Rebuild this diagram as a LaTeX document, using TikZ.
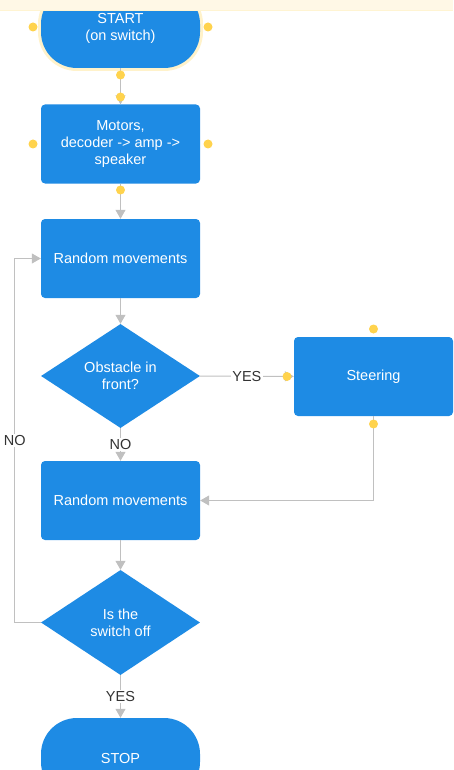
\documentclass[tikz,border=0pt]{standalone}
\usepackage{fontspec}
\setmainfont{Liberation Sans}
\usetikzlibrary{shapes.geometric,arrows.meta,calc}
\definecolor{boxblue}{RGB}{30,139,228}
\definecolor{linegray}{RGB}{192,192,192}
\definecolor{dotyellow}{RGB}{255,211,77}
\definecolor{labelgray}{RGB}{51,51,51}
\definecolor{bandcream}{RGB}{255,248,230}

\begin{document}
\begin{tikzpicture}[x=1pt,y=-1pt,
    every node/.style={font=\fontsize{14.5}{17}\selectfont},
    process/.style={rectangle, rounded corners=4pt, fill=boxblue, text=white, align=center,
        minimum width=159pt, minimum height=79pt, inner sep=0pt},
    terminal/.style={process, rounded corners=36pt, minimum height=80pt},
    decision/.style={diamond, aspect=1.53, fill=boxblue, text=white, align=center,
        minimum width=159pt, minimum height=104pt, inner sep=0pt},
    flow/.style={draw=linegray, line width=1pt, -{Triangle[width=10pt,length=9pt]}},
    answer/.style={fill=white, text=labelgray, inner sep=1.5pt},
    handle/.style={fill=dotyellow}]
    \useasboundingbox (0,0) rectangle (453,770);

    % Glow round the selected start shape
    \draw[dotyellow!30, line width=6pt, rounded corners=36pt] (41,-12) rectangle (200,68);

    % Shapes
    \node[terminal] (start) at (120.5,28) {START\\(on switch)};
    \node[process] (motors) at (120.5,144) {Motors,\\decoder -> amp ->\\speaker};
    \node[process] (rand1) at (120.5,258.5) {Random movements};
    \node[decision] (obst) at (120.5,376) {Obstacle in\\front?};
    \node[process] (steer) at (373.5,376.5) {Steering};
    \node[process] (rand2) at (120.5,500.5) {Random movements};
    \node[decision, minimum height=105pt] (swoff) at (120.5,622.5) {Is the\\switch off};
    \node[terminal] (stop) at (120.5,758) {STOP};

    % Connectors
    \draw[flow] (start) -- (motors);
    \draw[flow] (motors) -- (rand1);
    \draw[flow] (rand1) -- (obst);
    \draw[flow] (obst) -- node[answer] {YES} (steer);
    \draw[flow] (obst) -- node[answer] {NO} (rand2);
    \draw[flow] (steer.south) |- (rand2.east);
    \draw[flow] (rand2) -- (swoff);
    \draw[flow] (swoff) -- node[answer] {YES} (stop);
    \draw[flow] (swoff.west) -- ++(-26,0) |- node[answer, pos=0.25] {NO} (rand1.west);

    % Connection handles
    \foreach \p in {(33,27),(208,27),(120.5,75),(120.5,97),(33,144),(208,144),
                    (120.5,190),(373.5,329),(373.5,424),(287,376.5)}
        \fill[handle] \p circle (4.5pt);

    % Top band
    \fill[bandcream] (0,0) rectangle (453,10);
    \draw[dotyellow!25] (0,10) -- (453,10);
\end{tikzpicture}
\end{document}
